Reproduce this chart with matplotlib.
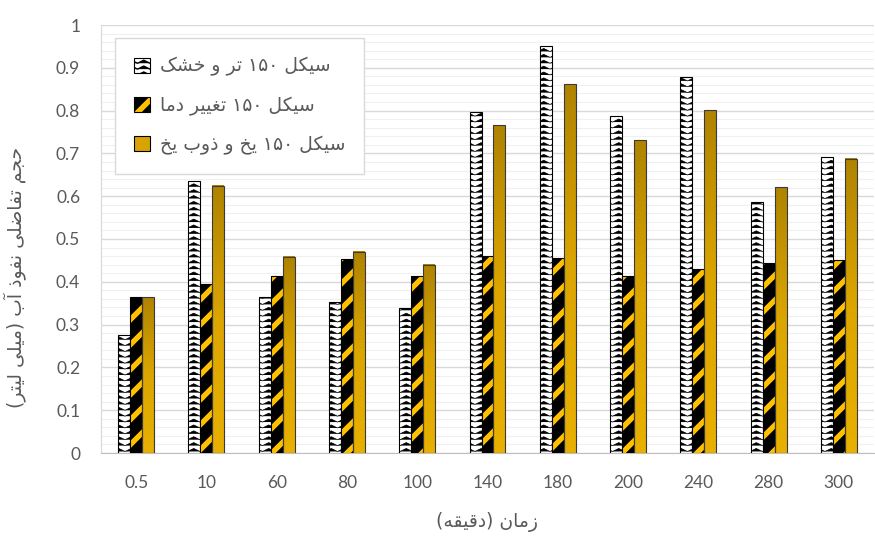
import re
import warnings
import numpy as np
import matplotlib
matplotlib.use('Agg')
import matplotlib.pyplot as plt
from matplotlib import hatch as mhatch
from matplotlib.path import Path
from matplotlib.patches import Patch
from matplotlib.ticker import MultipleLocator, FuncFormatter
from matplotlib.colors import LinearSegmentedColormap

warnings.filterwarnings('ignore')

# data
times = ['0.5', '10', '60', '80', '100', '140', '180', '200', '240', '280', '300']
wet_dry = [0.276, 0.636, 0.364, 0.353, 0.339, 0.797, 0.951, 0.787, 0.879, 0.586, 0.692]
temp_change = [0.364, 0.395, 0.414, 0.453, 0.414, 0.460, 0.456, 0.414, 0.430, 0.444, 0.451]
freeze_thaw = [0.364, 0.624, 0.458, 0.470, 0.440, 0.766, 0.862, 0.731, 0.801, 0.621, 0.687]

series_labels = ['سیکل ۱۵۰ تر و خشک', 'سیکل ۱۵۰ تغییر دما', 'سیکل ۱۵۰ یخ و ذوب یخ']
x_title = 'زمان (دقیقه)'
y_title = 'حجم تفاضلی نفوذ آب (میلی لیتر)'

# ---- small arabic/persian shaper (matplotlib has no text shaping) ----
FORMS = {
    'ا': (0xFE8D, 0xFE8E, None, None), 'آ': (0xFE81, 0xFE82, None, None),
    'د': (0xFEA9, 0xFEAA, None, None), 'ذ': (0xFEAB, 0xFEAC, None, None),
    'ر': (0xFEAD, 0xFEAE, None, None), 'ز': (0xFEAF, 0xFEB0, None, None),
    'و': (0xFEED, 0xFEEE, None, None),
    'ب': (0xFE8F, 0xFE90, 0xFE91, 0xFE92), 'ت': (0xFE95, 0xFE96, 0xFE97, 0xFE98),
    'ج': (0xFE9D, 0xFE9E, 0xFE9F, 0xFEA0), 'ح': (0xFEA1, 0xFEA2, 0xFEA3, 0xFEA4),
    'خ': (0xFEA5, 0xFEA6, 0xFEA7, 0xFEA8), 'س': (0xFEB1, 0xFEB2, 0xFEB3, 0xFEB4),
    'ش': (0xFEB5, 0xFEB6, 0xFEB7, 0xFEB8), 'ض': (0xFEBD, 0xFEBE, 0xFEBF, 0xFEC0),
    'غ': (0xFECD, 0xFECE, 0xFECF, 0xFED0), 'ف': (0xFED1, 0xFED2, 0xFED3, 0xFED4),
    'ق': (0xFED5, 0xFED6, 0xFED7, 0xFED8), 'ل': (0xFEDD, 0xFEDE, 0xFEDF, 0xFEE0),
    'م': (0xFEE1, 0xFEE2, 0xFEE3, 0xFEE4), 'ن': (0xFEE5, 0xFEE6, 0xFEE7, 0xFEE8),
    'ه': (0xFEE9, 0xFEEA, 0xFEEB, 0xFEEC),
    'ک': (0xFB8E, 0xFB8F, 0xFB90, 0xFB91), 'ی': (0xFBFC, 0xFBFD, 0xFBFE, 0xFBFF),
}


def rtl(text):
    out = []
    for i, c in enumerate(text):
        if c not in FORMS:
            out.append(c)
            continue
        prev = text[i - 1] if i > 0 else ''
        nxt = text[i + 1] if i + 1 < len(text) else ''
        jp = prev in FORMS and FORMS[prev][2] is not None
        jn = FORMS[c][2] is not None and nxt in FORMS
        iso, fin, ini, med = FORMS[c]
        code = med if (jp and jn) else fin if jp else ini if jn else iso
        out.append(chr(code))
    vis = ''.join(out)[::-1]
    vis = re.sub(r'[0-9۰-۹.]+', lambda m: m.group(0)[::-1], vis)
    return vis.translate(str.maketrans('()', ')('))


# ---- custom hatches: 'z' = rows of ^^^ chevrons, 'y' = thick diagonal stripes ----
class ZigzagHatch(mhatch.HatchPatternBase):
    def __init__(self, hatch, density):
        self.rows = hatch.count('z') * 17
        self.teeth = 8
        self.num_vertices = self.rows * (2 * self.teeth + 1)

    def set_vertices_and_codes(self, vertices, codes):
        n = 2 * self.teeth + 1
        k = np.arange(n)
        for r in range(self.rows):
            y0 = (r + 0.25) / self.rows
            vertices[r * n:(r + 1) * n, 0] = k / (n - 1)
            vertices[r * n:(r + 1) * n, 1] = y0 + 0.03 * (k % 2)
            codes[r * n] = Path.MOVETO
            codes[r * n + 1:(r + 1) * n] = Path.LINETO


class StripeHatch(mhatch.HatchPatternBase):
    # each stripe drawn as a few parallel lines so it reads thick
    offsets = np.array([-0.014, -0.007, 0.0, 0.007, 0.014])

    def __init__(self, hatch, density):
        self.num_lines = hatch.count('y') * 8
        self.num_vertices = (self.num_lines + 1) * 2 * len(self.offsets) if self.num_lines else 0

    def set_vertices_and_codes(self, vertices, codes):
        steps = np.linspace(-0.5, 0.5, self.num_lines + 1)
        steps = (steps[:, None] + self.offsets[None, :]).ravel()
        vertices[0::2, 0] = 0.0 + steps
        vertices[0::2, 1] = 0.0 - steps
        vertices[1::2, 0] = 1.0 + steps
        vertices[1::2, 1] = 1.0 - steps
        codes[0::2] = Path.MOVETO
        codes[1::2] = Path.LINETO


mhatch._hatch_types.extend([ZigzagHatch, StripeHatch])
mhatch._validate_hatch_pattern = lambda h: None


def hatch_lw(patches, lw):
    for p in patches:
        if hasattr(p, 'set_hatch_linewidth'):
            p.set_hatch_linewidth(lw)
        orig = p.draw

        def draw(renderer, orig=orig):
            with plt.rc_context({'hatch.linewidth': lw}):
                orig(renderer)
        p.draw = draw


plt.rcParams['font.family'] = ['Lato', 'DejaVu Sans']
grey = '#595959'
yellow = '#FFC000'
gold = LinearSegmentedColormap.from_list('gold', ['#E8B000', '#DCA600', '#B08400'])

fig = plt.figure(figsize=(8.75, 5.36), dpi=100)
ax = fig.add_axes([101 / 875, 83 / 536, 773 / 875, 428 / 536])

x = np.arange(len(times))
w = 0.17

b1 = ax.bar(x - w, wet_dry, w, facecolor='white', edgecolor='black',
            linewidth=0.8, hatch='z', zorder=3)
hatch_lw(b1, 0.5)

b2 = ax.bar(x, temp_change, w, facecolor='black', edgecolor=yellow,
            linewidth=0, hatch='y', zorder=3)
hatch_lw(b2, 1.0)
ax.bar(x, temp_change, w, facecolor='none', edgecolor='black', linewidth=0.8, zorder=4)

b3 = ax.bar(x + w, freeze_thaw, w, facecolor='none', edgecolor='#3a3a3a',
            linewidth=0.8, zorder=4)
grad = np.linspace(0, 1, 64).reshape(-1, 1)
for r in b3:
    ax.imshow(grad, extent=(r.get_x(), r.get_x() + r.get_width(), 0, r.get_height()),
              origin='lower', aspect='auto', cmap=gold, zorder=3, interpolation='bilinear')

ax.set_xlim(-0.5, len(times) - 0.5)
ax.set_ylim(0, 1)
ax.set_xticks(x)
ax.set_xticklabels(times)
ax.yaxis.set_major_locator(MultipleLocator(0.1))
ax.yaxis.set_minor_locator(MultipleLocator(0.02))
ax.yaxis.set_major_formatter(FuncFormatter(lambda v, p: '%g' % round(v, 2)))
ax.grid(axis='y', which='major', color='#D9D9D9', linewidth=1.0)
ax.grid(axis='y', which='minor', color='#F0F0F0', linewidth=0.8)
ax.set_axisbelow(True)

for s in ['top', 'right']:
    ax.spines[s].set_visible(False)
ax.spines['left'].set_color('#D9D9D9')
ax.spines['bottom'].set_color('#BFBFBF')
ax.tick_params(axis='both', which='both', length=0, labelsize=12.5, labelcolor=grey)
ax.tick_params(axis='x', pad=16)
ax.tick_params(axis='y', pad=15)

ax.set_xlabel(rtl(x_title), family='DejaVu Sans', fontsize=13.5, color=grey, labelpad=15)
ax.set_ylabel(rtl(y_title), family='DejaVu Sans', fontsize=13.5, color=grey)
ax.yaxis.set_label_coords(-0.097, 0.41)

h1 = Patch(facecolor='white', edgecolor='black', linewidth=0.8, hatch='z')
h2a = Patch(facecolor='black', edgecolor=yellow, linewidth=0, hatch='y')
h2b = Patch(facecolor='none', edgecolor='black', linewidth=0.8)
h3 = Patch(facecolor='#D9A400', edgecolor='black', linewidth=0.8)
hatch_lw([h1], 0.5)
hatch_lw([h2a], 1.0)
leg = ax.legend([h1, (h2a, h2b), h3], [rtl(t) for t in series_labels],
                loc='upper left', bbox_to_anchor=(0.018, 0.97), borderaxespad=0,
                prop={'family': 'DejaVu Sans', 'size': 13.5}, labelcolor=grey,
                handlelength=0.85, handleheight=0.85, handletextpad=0.55,
                labelspacing=1.05, borderpad=1.0, fancybox=False,
                edgecolor='#D9D9D9', framealpha=1)
leg.get_frame().set_linewidth(1.0)

fig.savefig('out.png', dpi=100)
